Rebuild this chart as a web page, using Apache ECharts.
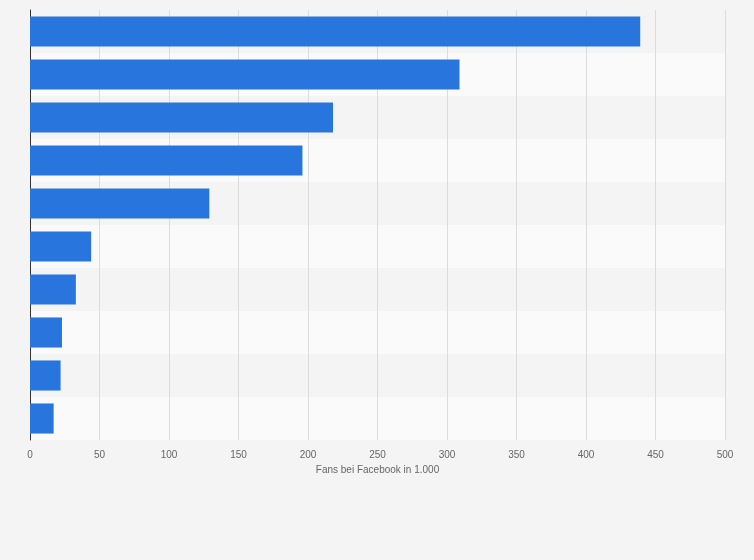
<!DOCTYPE html>
<html><head><meta charset="utf-8">
<script src="https://cdn.jsdelivr.net/npm/echarts@6/dist/echarts.min.js"></script>
<style>html,body{margin:0;padding:0;background:#f4f4f4}#c{width:754px;height:560px}</style>
</head><body><div id="c"></div>
<script>
const categories = ['1','2','3','4','5','6','7','8','9','10'];
const values = [439, 309, 218, 196, 129, 44, 33, 23, 22, 17];
const xTicks = [0, 50, 100, 150, 200, 250, 300, 350, 400, 450, 500];
const chart = echarts.init(document.getElementById('c'));
chart.setOption({
  backgroundColor: '#f4f4f4',
  animation: false,
  grid: {left: 30, right: 29, top: 10, bottom: 120},
  xAxis: {
    type: 'value', min: xTicks[0], max: xTicks[xTicks.length-1], interval: 50,
    name: 'Fans bei Facebook in 1.000', nameLocation: 'middle', nameGap: 19,
    nameTextStyle: {color: '#666', fontSize: 10, fontFamily: 'Arial, Liberation Sans'},
    axisLabel: {color: '#666', fontSize: 10, fontFamily: 'Arial, Liberation Sans', margin: 10},
    axisLine: {show: false}, axisTick: {show: false},
    splitLine: {lineStyle: {color: '#dcdcdc', width: 1}}
  },
  yAxis: {
    type: 'category', data: categories, inverse: true,
    axisLabel: {show: false}, axisTick: {show: false},
    axisLine: {lineStyle: {color: '#333', width: 1}},
    splitArea: {show: true, areaStyle: {color: ['#ffffff', '#f4f4f4', '#fafafa', '#f4f4f4'].slice(1,3)}}
  },
  series: [{
    type: 'bar', data: values, barCategoryGap: '30%',
    itemStyle: {color: '#2876dd'}
  }]
});
</script></body></html>
